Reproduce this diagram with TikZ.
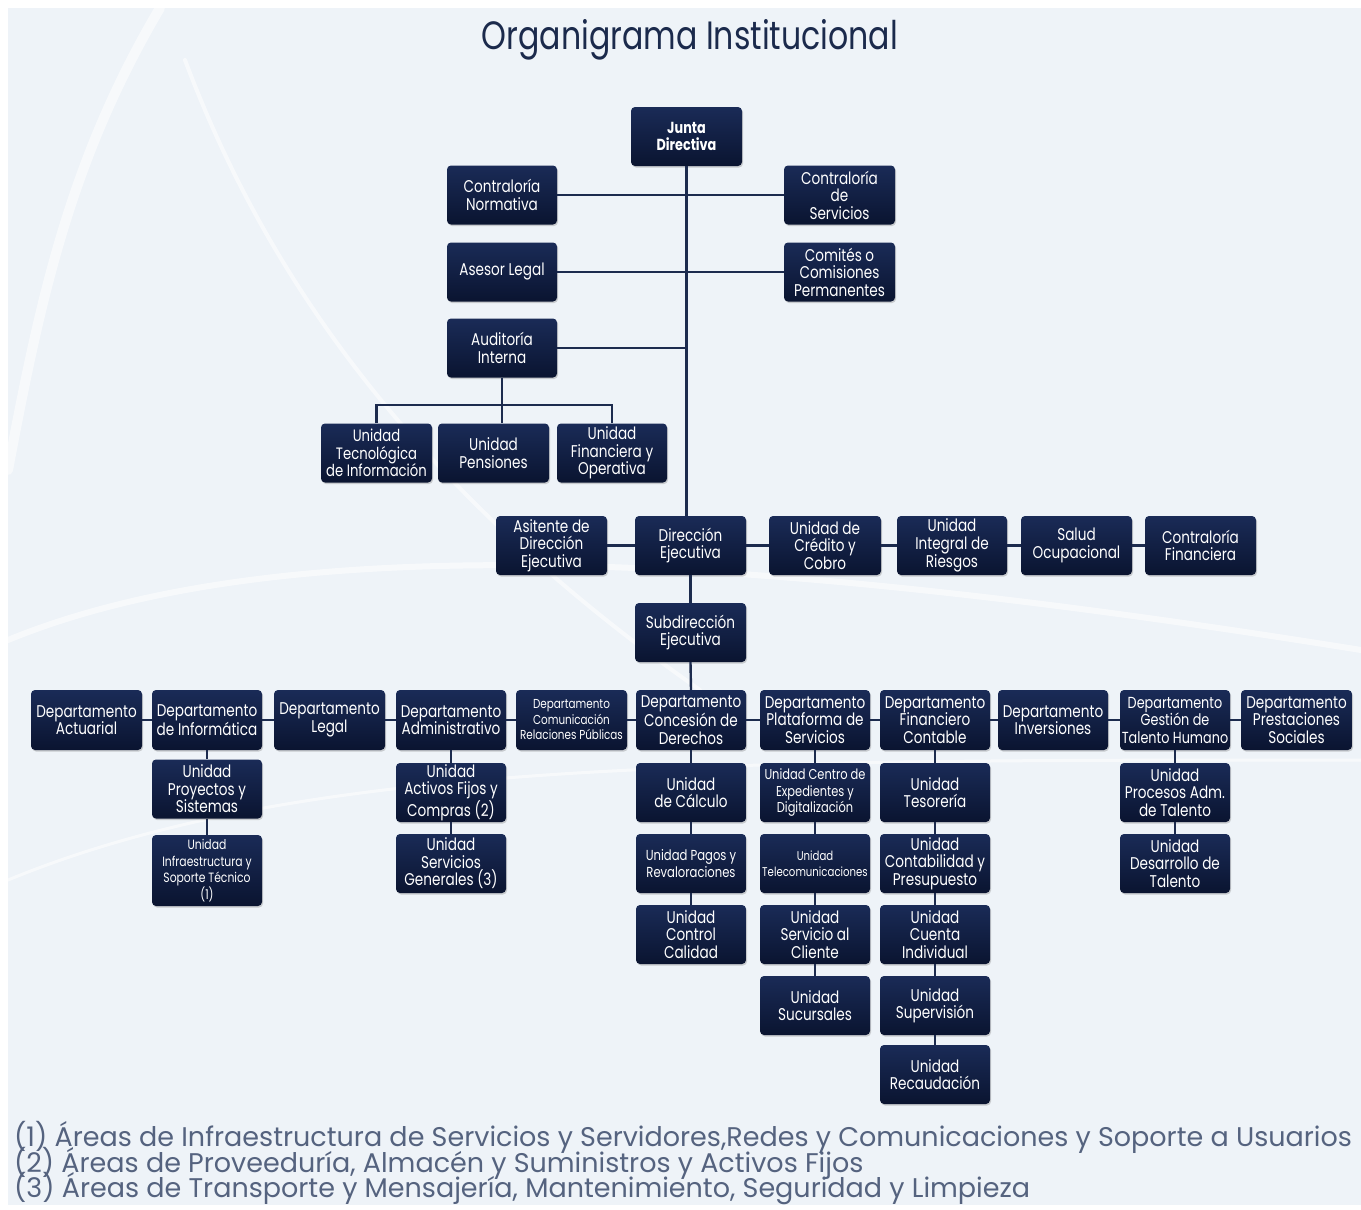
\documentclass[tikz,border=0pt]{standalone}
\usepackage{fontspec}
\setmainfont{Poppins}[FakeStretch=0.8]
\newfontfamily\notefont{Poppins}
\usetikzlibrary{shadows}

\definecolor{navyTop}{HTML}{1A2B57}
\definecolor{navyBot}{HTML}{0A1430}
\definecolor{linecol}{HTML}{1C2B4E}
\definecolor{bgcol}{HTML}{EEF3F8}
\definecolor{notecol}{HTML}{55637F}
\definecolor{titlecol}{HTML}{1B2A4C}

\tikzset{
  orgbox/.style={rounded corners=4pt, top color=navyTop, bottom color=navyBot,
    draw=none, text=white, align=center, minimum width=110pt, minimum height=59pt,
    inner sep=1pt, font=\fontsize{17}{17.5}\selectfont,
    drop shadow={shadow xshift=1pt, shadow yshift=-1.5pt, opacity=0.35}},
  conn/.style={draw=linecol, line width=2.4pt},
  swoosh/.style={draw=white, opacity=0.55, line cap=round},
}
\newcommand{\fs}[2]{\fontsize{#1}{#2}\selectfont}

\begin{document}
\begin{tikzpicture}[x=1pt, y=-1pt]
  % page and background
  \useasboundingbox (0,0) rectangle (1361,1210);
  \fill[white] (0,0) rectangle (1361,1210);
  \fill[bgcol] (8,8) rectangle (1361,1205);
  \draw[swoosh, line width=10pt] (160,8) .. controls (70,160) and (40,300) .. (8,470);
  \draw[swoosh, line width=4pt] (185,60) .. controls (260,260) and (400,480) .. (700,690);
  \draw[swoosh, line width=6pt] (8,640) .. controls (300,520) and (800,560) .. (1361,650);
  \draw[swoosh, line width=3pt] (8,880) .. controls (300,760) and (700,760) .. (1361,760);

  % title
  \node[text=titlecol, font=\fs{39.5}{42}] (title) at (690,40) {Organigrama Institucional};

  % governing level
  \node[orgbox, font=\bfseries\fs{16}{17.5}, minimum width=111pt] (jd) at (686.5,136.5) {Junta\\Directiva};
  \node[orgbox] (cn) at (502,195) {Contraloría\\Normativa};
  \node[orgbox, minimum width=111pt] (cs) at (839.5,195) {Contraloría\\de\\Servicios};
  \node[orgbox] (al) at (502,272) {Asesor Legal};
  \node[orgbox, minimum width=111pt] (cp) at (839.5,272) {Comités o\\Comisiones\\Permanentes};
  \node[orgbox] (ai) at (502,348) {Auditoría\\Interna};

  % units under internal audit
  \node[orgbox, minimum width=111pt, font=\fs{16.5}{17.5}] (ut) at (376.5,453) {Unidad\\Tecnológica\\de Información};
  \node[orgbox, minimum width=111pt] (up) at (493.5,453) {Unidad\\Pensiones};
  \node[orgbox] (uf) at (612,453) {Unidad\\Financiera y\\Operativa};

  % executive direction row
  \node[orgbox, minimum width=111pt] (ad) at (551.5,545.5) {Asitente de\\Dirección\\Ejecutiva};
  \node[orgbox, minimum width=111pt] (de) at (690.5,545.5) {Dirección\\Ejecutiva};
  \node[orgbox, minimum width=112pt] (uc) at (825,545.5) {Unidad de\\Crédito y\\Cobro};
  \node[orgbox] (ui) at (952,545.5) {Unidad\\Integral de\\Riesgos};
  \node[orgbox, minimum width=111pt] (so) at (1076.5,545.5) {Salud\\Ocupacional};
  \node[orgbox, minimum width=111pt] (cf) at (1200.5,545.5) {Contraloría\\Financiera};
  \node[orgbox, minimum width=111pt] (sd) at (690.5,632.5) {Subdirección\\Ejecutiva};

  % departments
  \node[orgbox, minimum width=111pt, minimum height=60pt] (d1) at (86.5,720) {Departamento\\Actuarial};
  \node[orgbox, minimum height=60pt] (d2) at (207,720) {Departamento\\de Informática};
  \node[orgbox, minimum width=111pt, minimum height=60pt] (d3) at (329.5,720) {Departamento\\Legal};
  \node[orgbox, minimum height=60pt] (d4) at (451,720) {Departamento\\Administrativo};
  \node[orgbox, minimum width=111pt, minimum height=60pt, font=\fs{13}{15.5}] (d5) at (571.5,720) {Departamento\\Comunicación\\Relaciones Públicas};
  \node[orgbox, minimum height=60pt] (d6) at (691,720) {Departamento\\Concesión de\\Derechos};
  \node[orgbox, minimum height=60pt] (d7) at (815,720) {Departamento\\Plataforma de\\Servicios};
  \node[orgbox, minimum height=60pt] (d8) at (935,720) {Departamento\\Financiero\\Contable};
  \node[orgbox, minimum height=60pt] (d9) at (1053,720) {Departamento\\Inversiones};
  \node[orgbox, minimum height=60pt, font=\fs{16}{17.5}] (d10) at (1175,720) {Departamento\\Gestión de\\Talento Humano};
  \node[orgbox, minimum width=111pt, minimum height=60pt] (d11) at (1296.5,720) {Departamento\\Prestaciones\\Sociales};

  % units by department
  \node[orgbox] (i1) at (207,789) {Unidad\\Proyectos y\\Sistemas};
  \node[orgbox, minimum height=71pt, font=\fs{13.5}{16.5}] (i2) at (207,870.5) {Unidad\\Infraestructura y\\Soporte Técnico\\(1)};

  \node[orgbox] (a1) at (451,792.5) {Unidad\\Activos Fijos y\\Compras (2)};
  \node[orgbox] (a2) at (451,863.5) {Unidad\\Servicios\\Generales (3)};

  \node[orgbox] (c1) at (691,792.5) {Unidad\\de Cálculo};
  \node[orgbox, font=\fs{14.5}{16.5}] (c2) at (691,863.5) {Unidad Pagos y\\Revaloraciones};
  \node[orgbox] (c3) at (691,934.5) {Unidad\\Control\\Calidad};

  \node[orgbox, font=\fs{14.3}{16.5}] (p1) at (815,792.5) {Unidad Centro de\\Expedientes y\\Digitalización};
  \node[orgbox, font=\fs{12.7}{16.5}] (p2) at (815,863.5) {Unidad\\Telecomunicaciones};
  \node[orgbox] (p3) at (815,934.5) {Unidad\\Servicio al\\Cliente};
  \node[orgbox] (p4) at (815,1005.5) {Unidad\\Sucursales};

  \node[orgbox] (f1) at (935,792.5) {Unidad\\Tesorería};
  \node[orgbox] (f2) at (935,863.5) {Unidad\\Contabilidad y\\Presupuesto};
  \node[orgbox] (f3) at (935,934.5) {Unidad\\Cuenta\\Individual};
  \node[orgbox] (f4) at (935,1005.5) {Unidad\\Supervisión};
  \node[orgbox] (f5) at (935,1074.5) {Unidad\\Recaudación};

  \node[orgbox] (t1) at (1175,792.5) {Unidad\\Procesos Adm.\\de Talento};
  \node[orgbox] (t2) at (1175,863.5) {Unidad\\Desarrollo de\\Talento};

  % connectors: governing level
  \draw[conn] (jd.south) -- (jd.south |- de.north);
  \draw[conn] (cn.east) -- (cs.west);
  \draw[conn] (al.east) -- (cp.west);
  \draw[conn] (ai.east) -- (ai.east -| jd.south);
  \coordinate (bar) at (502,405);
  \draw[conn] (ai.south) -- (bar);
  \draw[conn] (ut.north) -- (ut.north |- bar) -- (uf.north |- bar) -- (uf.north);
  \draw[conn] (bar) -- (bar |- up.north);

  % connectors: executive row
  \draw[conn] (ad.east) -- (de.west);
  \draw[conn] (de.east) -- (uc.west);
  \draw[conn] (uc.east) -- (ui.west);
  \draw[conn] (ui.east) -- (so.west);
  \draw[conn] (so.east) -- (cf.west);
  \draw[conn] (de.south) -- (sd.north);
  \draw[conn] (sd.south) -- (d6.north);

  % connectors: departments
  \foreach \a/\b in {d1/d2, d2/d3, d3/d4, d4/d5, d5/d6, d6/d7, d7/d8, d8/d9, d9/d10, d10/d11}
    \draw[conn] (\a.east) -- (\b.west);

  % connectors: unit columns
  \foreach \a/\b in {d2/i1, i1/i2, d4/a1, a1/a2, d6/c1, c1/c2, c2/c3,
                     d7/p1, p1/p2, p2/p3, p3/p4,
                     d8/f1, f1/f2, f2/f3, f3/f4, f4/f5, d10/t1, t1/t2}
    \draw[conn] (\a.south) -- (\b.north);

  % footnotes
  \begin{scope}[every node/.style={anchor=west, text=notecol, inner sep=0pt,
      font=\notefont\fs{27}{28}}]
    \node (n1) at (14,1137) {(1) Áreas de Infraestructura de Servicios y Servidores,Redes y Comunicaciones y Soporte a Usuarios};
    \node (n2) at (14,1163) {(2) Áreas de Proveeduría, Almacén y Suministros y Activos Fijos};
    \node (n3) at (14,1189) {(3) Áreas de Transporte y Mensajería, Mantenimiento, Seguridad y Limpieza};
  \end{scope}
\end{tikzpicture}
\end{document}
